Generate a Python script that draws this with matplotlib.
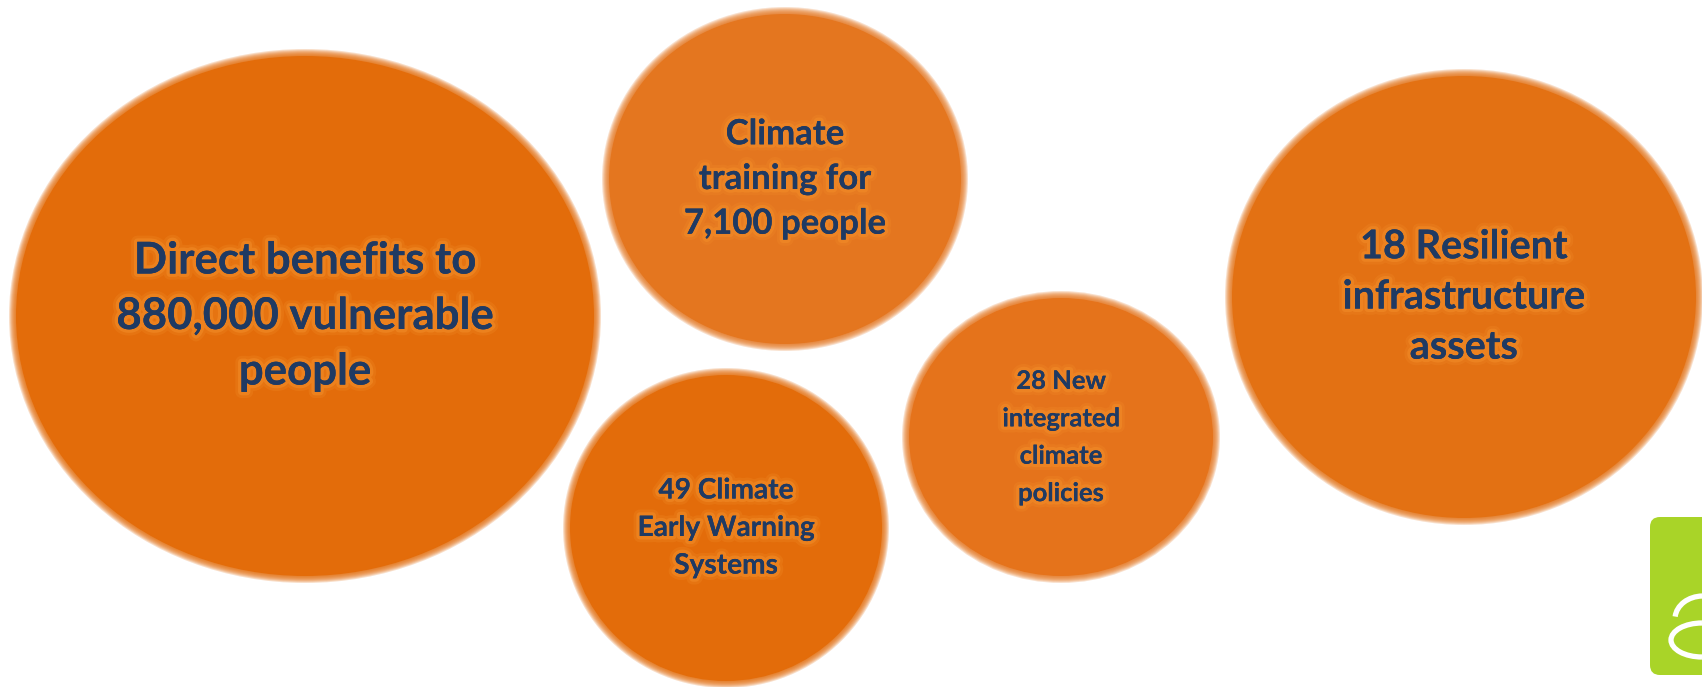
import matplotlib
matplotlib.use("Agg")
import matplotlib.pyplot as plt
from matplotlib.patches import Ellipse, FancyBboxPatch, Arc
import matplotlib.patheffects as pe

# ---- data ----
labels = [
    "Direct benefits to\n880,000 vulnerable\npeople",
    "Climate\ntraining for\n7,100 people",
    "49 Climate\nEarly Warning\nSystems",
    "28 New\nintegrated\nclimate\npolicies",
    "18 Resilient\ninfrastructure\nassets",
]
metric_values = [880000, 7100, 49, 28, 18]

# ---- layout (pixel coordinates, y downward) ----
centers = [(305, 316), (785, 179), (726, 528), (1061, 437), (1464, 297)]
radii = [(292, 263), (179, 168), (159, 156), (155, 142), (235, 224)]
fills = ["#E36C0A", "#E4761F", "#E36C0A", "#E5731B", "#E37113"]
font_sizes = [31.5, 25, 20.2, 18.4, 28.5]
line_sp = [1.47, 1.49, 1.55, 1.67, 1.44]

W, H = 1702, 687
fig = plt.figure(figsize=(W / 100, H / 100), dpi=100)
ax = fig.add_axes([0, 0, 1, 1])
ax.set_xlim(0, W)
ax.set_ylim(H, 0)
ax.set_aspect("equal")
ax.axis("off")
fig.patch.set_facecolor("white")

text_color = "#1F3A63"
glow = "#F28C28"

for (cx, cy), (rx, ry), col, lab, fs, ls in zip(centers, radii, fills, labels,
                                                 font_sizes, line_sp):
    # soft (blurred) edge: stacked translucent layers + solid body
    for d in [4, 3, 2, 1, 0, -1, -2]:
        ax.add_patch(Ellipse((cx, cy), 2 * (rx + d), 2 * (ry + d), facecolor=col,
                             edgecolor="none", alpha=0.22, lw=0, zorder=1))
    ax.add_patch(Ellipse((cx, cy), 2 * (rx - 3), 2 * (ry - 3), facecolor=col,
                         edgecolor="none", lw=0, zorder=2))
    ax.text(cx, cy, lab, ha="center", va="center", fontsize=fs, fontweight="bold",
            family=["Lato", "DejaVu Sans"], color=text_color, linespacing=ls, zorder=5,
            path_effects=[pe.withStroke(linewidth=9, foreground=glow, alpha=0.25),
                          pe.withStroke(linewidth=5, foreground=glow, alpha=0.55),
                          pe.Normal()])

# green logo corner
ax.add_patch(FancyBboxPatch((1650, 517), 80, 158, boxstyle="round,pad=0,rounding_size=10",
                            facecolor="#A9D428", edgecolor="none", zorder=3))
ax.add_patch(Arc((1703, 619), 56, 46, theta1=185, theta2=268, color="white", lw=3.8, zorder=4))
ax.add_patch(Arc((1702, 640), 62, 34, theta1=90, theta2=270, color="white", lw=3.8, zorder=4))

fig.savefig("out.png", dpi=100, facecolor="white")
